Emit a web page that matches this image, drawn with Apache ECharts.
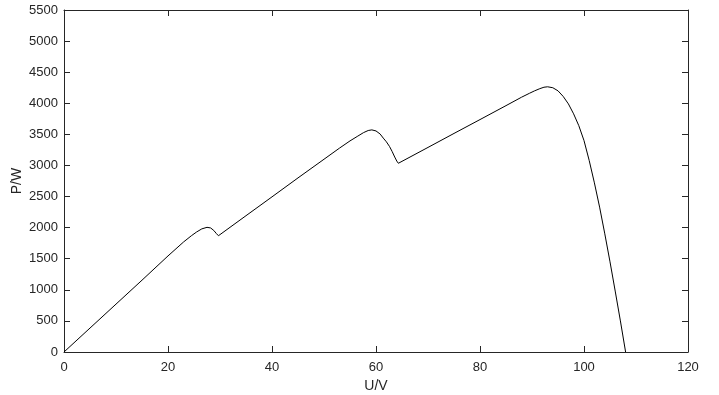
<!DOCTYPE html>
<html>
<head>
<meta charset="utf-8">
<script src="https://cdn.jsdelivr.net/npm/echarts@6/dist/echarts.min.js"></script>
<style>html,body{margin:0;padding:0;background:#fff;}#c{width:719px;height:395px;}</style>
</head>
<body>
<div id="c"></div>
<script>
var voltage = [0, 5, 10, 15, 20, 23, 24.5, 25.5, 26.5, 27.5, 28.2, 28.8, 29.3, 29.7,
  35, 40, 45, 50, 53, 55, 56.5, 57.6, 58.5, 59.2, 60, 60.8, 61.4, 62, 62.6, 63.1, 63.6, 64, 64.3,
  70, 75, 80, 85, 88, 89.5, 90.5, 91.5, 92.3, 93, 94, 95, 96, 97, 98, 99,
  100, 101, 102, 103, 104, 105, 106, 107, 108];
var power = [0, 385, 770, 1155, 1545, 1770, 1870, 1930, 1980, 2005, 1995, 1955, 1905, 1870,
  2192, 2495, 2800, 3100, 3280, 3395, 3472, 3528, 3562, 3572, 3555, 3505, 3440, 3380, 3305, 3225, 3135, 3070, 3035,
  3290, 3515, 3738, 3962, 4098, 4160, 4200, 4235, 4258, 4265, 4250, 4200, 4110, 3990, 3830, 3640,
  3400, 3080, 2720, 2330, 1900, 1450, 980, 500, 0];
var xTicks = {min: 0, max: 120, interval: 20};
var yTicks = {min: 0, max: 5500, interval: 500};

var data = voltage.map(function (u, i) { return [u, power[i]]; });
var axisColor = '#262626';
var font = 'Arial, "Liberation Sans", Helvetica, sans-serif';
function plain(v) { return String(v); }
function baseAxis(extra) {
  var a = {
    type: 'value',
    axisLine: {show: true, onZero: false, lineStyle: {color: axisColor, width: 1}},
    axisTick: {show: true, inside: true, length: 6, lineStyle: {color: axisColor, width: 1}},
    splitLine: {show: false},
    axisLabel: {color: axisColor, fontFamily: font, fontSize: 13, formatter: plain}
  };
  for (var k in extra) a[k] = extra[k];
  return a;
}
var chart = echarts.init(document.getElementById('c'), null, {renderer: 'canvas'});
chart.setOption({
  animation: false,
  backgroundColor: '#ffffff',
  grid: {left: 64, right: 31, top: 10, bottom: 43, containLabel: false, outerBoundsMode: 'none'},
  xAxis: [
    baseAxis({position: 'bottom', min: xTicks.min, max: xTicks.max, interval: xTicks.interval,
      name: 'U/V', nameLocation: 'middle', nameGap: 27, nameMoveOverlap: false,
      nameTextStyle: {color: axisColor, fontFamily: font, fontSize: 14},
      axisLabel: {color: axisColor, fontFamily: font, fontSize: 13, margin: 9, formatter: plain}}),
    baseAxis({position: 'top', min: xTicks.min, max: xTicks.max, interval: xTicks.interval,
      axisLabel: {show: false}})
  ],
  yAxis: [
    baseAxis({position: 'left', min: yTicks.min, max: yTicks.max, interval: yTicks.interval,
      name: 'P/W', nameLocation: 'middle', nameGap: 40, nameMoveOverlap: false,
      nameTextStyle: {color: axisColor, fontFamily: font, fontSize: 14},
      axisLabel: {color: axisColor, fontFamily: font, fontSize: 13, margin: 6, formatter: plain}}),
    baseAxis({position: 'right', min: yTicks.min, max: yTicks.max, interval: yTicks.interval,
      axisLabel: {show: false}})
  ],
  series: [{
    type: 'line',
    data: data,
    xAxisIndex: 0,
    yAxisIndex: 0,
    showSymbol: false,
    smooth: false,
    lineStyle: {color: '#000000', width: 1},
    clip: true
  }]
});
</script>
</body>
</html>
